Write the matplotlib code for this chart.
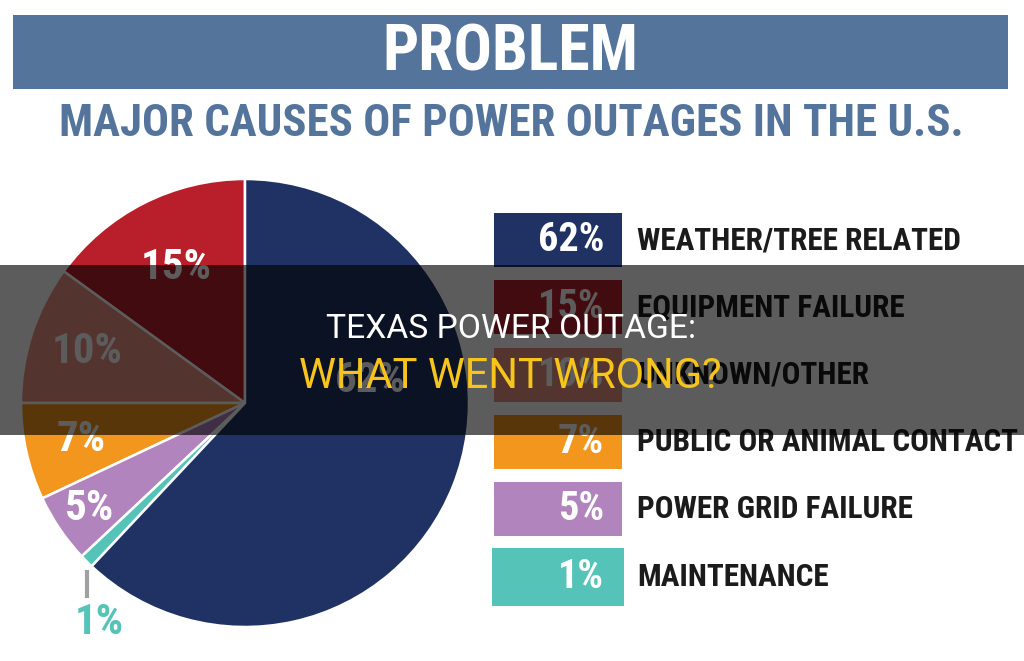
import matplotlib
matplotlib.use('Agg')
import matplotlib.pyplot as plt
from matplotlib.patches import Rectangle
import numpy as np

causes = ['WEATHER/TREE RELATED', 'EQUIPMENT FAILURE', 'UNKNOWN/OTHER',
          'PUBLIC OR ANIMAL CONTACT', 'POWER GRID FAILURE', 'MAINTENANCE']
shares = [62, 15, 10, 7, 5, 1]
colors = ['#1f3263', '#b81f2b', '#e8907f', '#f3961e', '#b284bd', '#55c3b8']

title = 'PROBLEM'
subtitle = 'MAJOR CAUSES OF POWER OUTAGES IN THE U.S.'
headline = 'TEXAS POWER OUTAGE:'
question = 'WHAT WENT WRONG?'

W, H = 1024, 661
blue = '#54749b'
cond = ['Roboto Condensed', 'DejaVu Sans']
st = 'condensed'

fig = plt.figure(figsize=(W / 100, H / 100), dpi=100)
ax = fig.add_axes([0, 0, 1, 1])

# pie: visually counter-clockwise from the top is red, brown, orange, purple, teal, navy
order = [1, 2, 3, 4, 5, 0]
cx, cy, R = 245, 403, 224
wedges, _ = ax.pie([shares[i] for i in order], colors=[colors[i] for i in order],
                   startangle=-90, counterclock=False, center=(cx, cy), radius=R,
                   wedgeprops=dict(edgecolor='white', linewidth=1.8))
ax.set_xlim(0, W)
ax.set_ylim(H, 0)
ax.set_aspect('equal')
ax.axis('off')

# pie labels
lab_r = {1: 0.68, 2: 0.74, 3: 0.75, 4: 0.84}
for w, i in zip(wedges, order):
    mid = np.deg2rad((w.theta1 + w.theta2) / 2)
    txt = f'{shares[i]}%'
    if i == 0:
        a = np.deg2rad(-10)
        ax.text(cx + 0.57 * R * np.cos(a), cy + 0.57 * R * np.sin(a), txt, color='white',
                fontsize=31, fontweight='bold', family=cond, stretch=st,
                ha='center', va='center')
    elif i == 5:
        ex, ey = cx + R * np.cos(mid), cy + R * np.sin(mid)
        ax.plot([ex, ex], [ey + 9, ey + 37], color='#a0a0a0', lw=3, solid_capstyle='butt')
        ax.text(ex + 13, ey + 61, txt, color=colors[5], fontsize=31, fontweight='bold',
                family=cond, stretch=st, ha='center', va='center')
    else:
        ax.text(cx + lab_r[i] * R * np.cos(mid), cy + lab_r[i] * R * np.sin(mid), txt,
                color='white', fontsize=31, fontweight='bold', family=cond, stretch=st,
                ha='center', va='center')

# legend boxes
for k, (c, s, col) in enumerate(zip(causes, shares, colors)):
    yc = 240 + k * 67.3
    hh = 54 if k < 5 else 58
    ww = 128 if k < 5 else 132
    x0 = 494 if k < 5 else 492
    ax.add_patch(Rectangle((x0, yc - hh / 2), ww, hh, color=col, lw=0))
    ax.text(604, yc, f'{s}%', color='white', fontsize=29, fontweight='bold',
            family=cond, stretch=st, ha='right', va='center')
    ax.text(637, yc, c, color='#1b1b1b', fontsize=22.5, fontweight='bold',
            family=cond, stretch=st, ha='left', va='center')

# header
ax.add_patch(Rectangle((13, 15), 995, 74, color=blue, lw=0))
ax.text(510, 53, title, color='white', fontsize=46, fontweight='bold', family=cond,
        stretch=st, ha='center', va='center')
ax.text(511, 124, subtitle, color=blue, fontsize=32.3, fontweight='bold', family=cond,
        stretch=st, ha='center', va='center')

# dark caption band
ax.add_patch(Rectangle((0, 265), W, 170, color='black', alpha=0.64, lw=0, zorder=5))
ax.text(511, 329, headline, color='white', fontsize=24.2, family=['Roboto', 'DejaVu Sans'],
        ha='center', va='center', zorder=6)
ax.text(510, 377, question, color='#f6c41a', fontsize=30, family=['Roboto', 'DejaVu Sans'],
        ha='center', va='center', zorder=6)

fig.savefig('out.png', dpi=100, facecolor='white')
